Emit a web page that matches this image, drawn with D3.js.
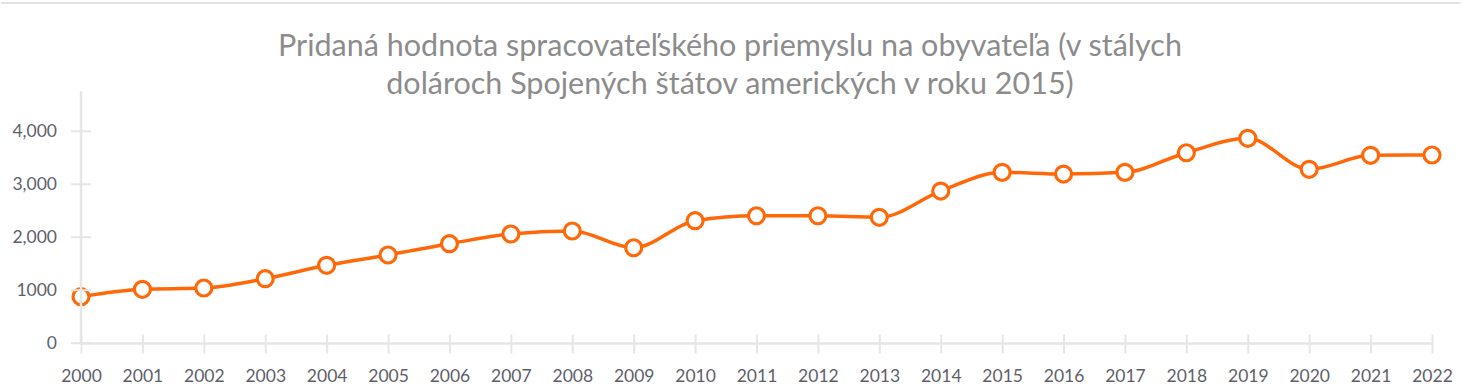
<!DOCTYPE html>
<html><head><meta charset="utf-8">
<script src="https://cdn.jsdelivr.net/npm/d3@7"></script>
<style>body{margin:0;background:#fff}svg{display:block}</style>
</head><body><svg id="c" width="1462" height="386"></svg>
<script>
const years = ["2000","2001","2002","2003","2004","2005","2006","2007","2008","2009","2010","2011","2012","2013","2014","2015","2016","2017","2018","2019","2020","2021","2022"];
const values = [868,1008,1032,1208,1460,1655,1868,2051,2108,1792,2302,2396,2396,2366,2862,3215,3183,3215,3585,3857,3272,3536,3542];
const yTicks = [0,1000,2000,3000,4000];
const yTickLabels = ["0","1000","2,000","3,000","4,000"];
const titleLines = ["Pridaná hodnota spracovateľského priemyslu na obyvateľa (v stálych","dolároch Spojených štátov amerických v roku 2015)"];

const svg = d3.select("#c");
const W=1462,H=386;
const x = d3.scalePoint().domain(years).range([81,1432]);
const y = d3.scaleLinear().domain([0,4750]).range([342.7,91]);
const font = "Lato, 'Source Sans Pro', sans-serif";
const axisColor = "#e6e6e6";
const lineColor = "#ff6808";

// top border
svg.append("line").attr("x1",1).attr("x2",W-1).attr("y1",3).attr("y2",3)
  .attr("stroke","#e3e3e3").attr("stroke-width",2);

// title
svg.append("g").selectAll("text").data(titleLines).join("text")
  .attr("x",730).attr("y",(d,i)=>56+i*38)
  .attr("text-anchor","middle").attr("font-family",font).attr("font-size",30.5)
  .attr("fill","#8c8c8c").text(d=>d);

// line
const line = d3.line().x((d,i)=>x(years[i])).y(d=>y(d)).curve(d3.curveMonotoneX);
svg.append("path").datum(values).attr("d",line).attr("fill","none")
  .attr("stroke",lineColor).attr("stroke-width",3.5);
svg.append("g").selectAll("circle").data(values).join("circle")
  .attr("cx",(d,i)=>x(years[i])).attr("cy",d=>y(d)).attr("r",8)
  .attr("fill","#fff").attr("stroke",lineColor).attr("stroke-width",3.2);

// y axis
const yAxis = d3.axisLeft(y).tickValues(yTicks).tickFormat((d,i)=>yTickLabels[i]).tickSize(0).tickPadding(24);
const gy = svg.append("g").attr("transform","translate(81,0)").call(yAxis);
gy.select(".domain").remove();
gy.selectAll(".tick text").attr("font-family",font).attr("font-size",17.5).attr("fill","#5f5f6b").attr("dy","0.35em");
gy.selectAll(".tick").append("line").attr("x1",-10).attr("x2",10).attr("stroke",axisColor).attr("stroke-width",2);
gy.append("line").attr("x1",0).attr("x2",0).attr("y1",91).attr("y2",345).attr("stroke",axisColor).attr("stroke-width",2.5);

// x axis
const xAxis = d3.axisBottom(x).tickSize(0).tickPadding(26);
const gx = svg.append("g").attr("transform","translate(0,343.5)").call(xAxis);
gx.select(".domain").remove();
gx.append("line").attr("x1",81).attr("x2",1432).attr("stroke",axisColor).attr("stroke-width",2.5);
gx.selectAll(".tick").append("line").attr("y1",-9).attr("y2",10).attr("stroke",axisColor).attr("stroke-width",2);
gx.selectAll(".tick text").attr("font-family",font).attr("font-size",17.5).attr("fill","#5f5f6b");
</script></body></html>
